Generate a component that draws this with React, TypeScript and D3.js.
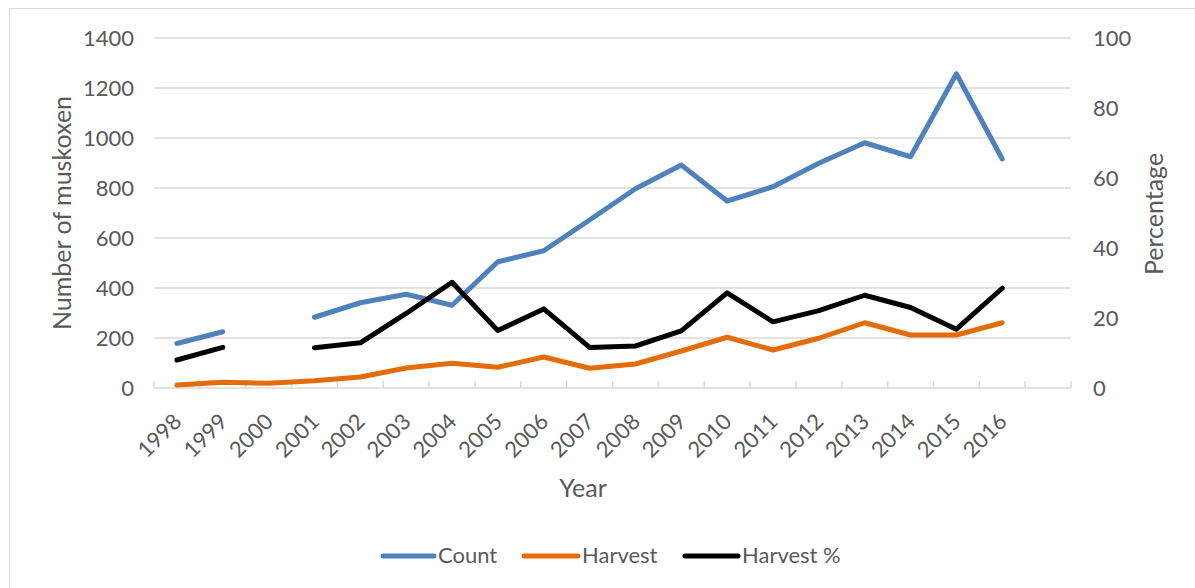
import React from "react";
import * as d3 from "d3";

// Muskox survey counts, harvest and harvest rate by year (2000 survey missing)
const years: string[] = [
  "1998", "1999", "2000", "2001", "2002", "2003", "2004", "2005", "2006", "2007",
  "2008", "2009", "2010", "2011", "2012", "2013", "2014", "2015", "2016",
];
const countValues: (number | null)[] = [
  178, 225, null, 283, 341, 375, 331, 505, 549, 672,
  797, 892, 748, 805, 899, 981, 925, 1257, 916,
];
const harvestValues: (number | null)[] = [
  12, 23, 19, 29, 44, 80, 99, 83, 124, 79,
  96, 148, 203, 152, 199, 261, 212, 212, 261,
];
const harvestPctValues: (number | null)[] = [
  8.0, 11.6, null, 11.5, 12.9, 21.3, 30.2, 16.4, 22.6, 11.6,
  12.0, 16.3, 27.2, 18.9, 22.1, 26.5, 23.0, 16.8, 28.5,
];
const leftTicks: number[] = [0, 200, 400, 600, 800, 1000, 1200, 1400];
const rightTicks: number[] = [0, 20, 40, 60, 80, 100];

const FONT = "Lato, 'Open Sans', sans-serif";
const TEXT = "#595959";
const GRID = "#d9d9d9";

const series = [
  { name: "Count", values: countValues, color: "#4f81bd", axis: "left" },
  { name: "Harvest", values: harvestValues, color: "#e46c0a", axis: "left" },
  { name: "Harvest %", values: harvestPctValues, color: "#000000", axis: "right" },
];

export default function App() {
  const W = 1195;
  const H = 588;
  const plotLeft = 154;
  const plotRight = 1071;
  const plotTop = 38;
  const plotBottom = 388;

  // One spare category slot after the last year, as in the source chart
  const slots = years.length + 1;
  const x = d3.scaleLinear().domain([0, slots]).range([plotLeft, plotRight]);
  const xc = (i: number) => x(i + 0.5);
  const yL = d3.scaleLinear().domain([0, 1400]).range([plotBottom, plotTop]);
  const yR = d3.scaleLinear().domain([0, 100]).range([plotBottom, plotTop]);

  const makeLine = (scale: d3.ScaleLinear<number, number>) =>
    d3
      .line<number | null>()
      .defined((d) => d != null)
      .x((_, i) => xc(i))
      .y((d) => scale(d as number));

  const legendItems = [
    { name: "Count", color: "#4f81bd", x0: 383, x1: 434, tx: 438 },
    { name: "Harvest", color: "#e46c0a", x0: 524, x1: 578, tx: 582 },
    { name: "Harvest %", color: "#000000", x0: 685, x1: 738, tx: 742 },
  ];

  return (
    <svg
      width={W}
      height={H}
      style={{ position: "absolute", left: 0, top: 0, background: "#fff" }}
      fontFamily={FONT}
    >
      <rect x={9.5} y={8.5} width={1200} height={600} fill="#fff" stroke={GRID} strokeWidth={1} />

      {/* horizontal gridlines */}
      {leftTicks.slice(1).map((t) => (
        <line key={t} x1={plotLeft} x2={plotRight} y1={yL(t)} y2={yL(t)} stroke={GRID} strokeWidth={1.5} />
      ))}

      {/* category axis with inward ticks */}
      <line x1={plotLeft} x2={plotRight} y1={plotBottom} y2={plotBottom} stroke={GRID} strokeWidth={1.5} />
      {d3.range(slots + 1).map((i) => (
        <line key={i} x1={x(i)} x2={x(i)} y1={plotBottom} y2={plotBottom - 7} stroke={GRID} strokeWidth={1.5} />
      ))}

      {/* left axis labels */}
      {leftTicks.map((t) => (
        <text key={t} x={134} y={yL(t)} dy="0.35em" textAnchor="end" fontSize={22} fill={TEXT}>
          {t}
        </text>
      ))}
      {/* right axis labels */}
      {rightTicks.map((t) => (
        <text key={t} x={1093} y={yR(t)} dy="0.35em" textAnchor="start" fontSize={22} fill={TEXT}>
          {t}
        </text>
      ))}

      {/* year labels */}
      {years.map((yr, i) => (
        <text
          key={yr}
          transform={`translate(${xc(i) + 6},${423}) rotate(-45)`}
          textAnchor="end"
          fontSize={22}
          fill={TEXT}
        >
          {yr}
        </text>
      ))}

      {/* axis titles */}
      <text x={583} y={497} textAnchor="middle" fontSize={25} fill={TEXT}>
        Year
      </text>
      <text transform="translate(71,213) rotate(-90)" textAnchor="middle" fontSize={25} fill={TEXT}>
        Number of muskoxen
      </text>
      <text transform="translate(1163,214) rotate(-90)" textAnchor="middle" fontSize={25} fill={TEXT}>
        Percentage
      </text>

      {/* data series */}
      {series.map((s) => (
        <path
          key={s.name}
          d={makeLine(s.axis === "left" ? yL : yR)(s.values) || ""}
          fill="none"
          stroke={s.color}
          strokeWidth={5}
          strokeLinecap="round"
          strokeLinejoin="round"
        />
      ))}

      {/* legend */}
      {legendItems.map((l) => (
        <g key={l.name}>
          <line x1={l.x0} x2={l.x1} y1={556} y2={556} stroke={l.color} strokeWidth={5} strokeLinecap="round" />
          <text x={l.tx} y={563} fontSize={22} fill={TEXT}>
            {l.name}
          </text>
        </g>
      ))}
    </svg>
  );
}
